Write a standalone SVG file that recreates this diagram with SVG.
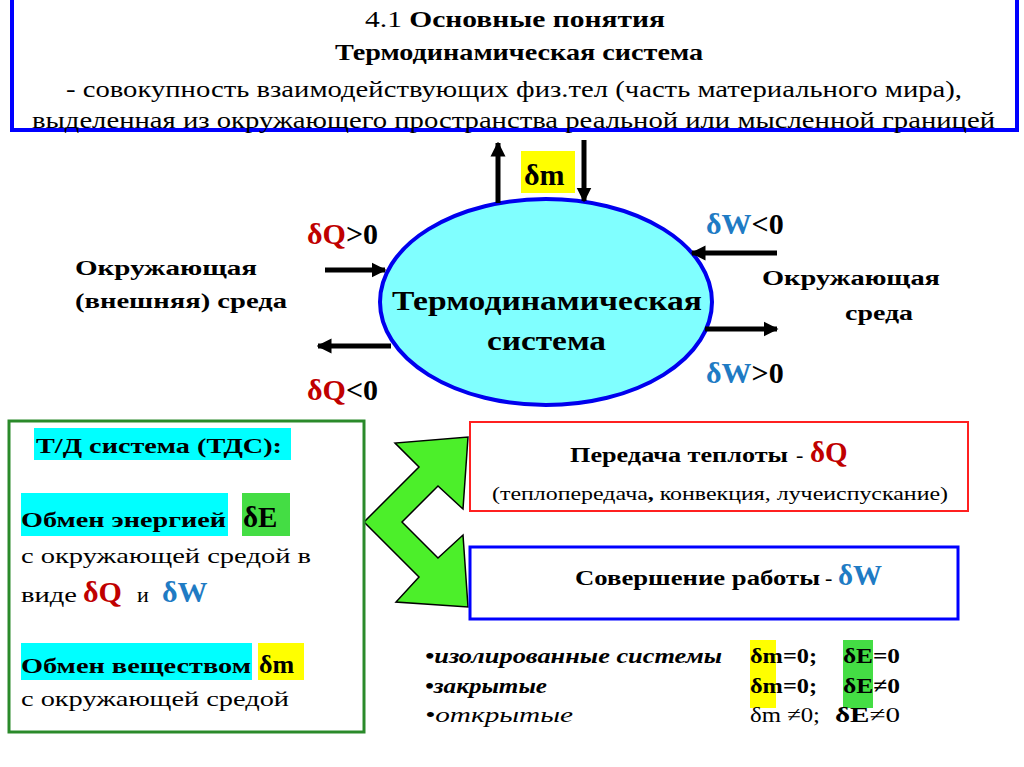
<svg xmlns="http://www.w3.org/2000/svg" width="1024" height="767" viewBox="0 0 1024 767">
<defs>
<style>
text{font-family:'Liberation Serif','DejaVu Serif Condensed',serif;fill:#000}
.b{font-weight:bold}
.i{font-style:italic}
.red{fill:#c00000}
.blu{fill:#1f7bc4}
.arr{stroke:#000;stroke-width:5;fill:none;marker-end:url(#ah)}
</style>
<marker id="ah" viewBox="0 0 10 10" refX="9" refY="5" markerWidth="3" markerHeight="3.6" orient="auto" markerUnits="strokeWidth">
<path d="M0,0 L10,5 L0,10 z" fill="#000"/>
</marker>
</defs>
<rect width="1024" height="767" fill="#fff"/>

<g id="header">
<rect x="12" y="-2" width="1005" height="132" fill="#fff" stroke="#0000ff" stroke-width="4"/>
<text x="365" y="27" font-size="23" textLength="300" lengthAdjust="spacingAndGlyphs">4.1 <tspan class="b">Основные понятия</tspan></text>
<text x="335" y="60" font-size="23" class="b" textLength="368" lengthAdjust="spacingAndGlyphs">Термодинамическая система</text>
<text x="66" y="97" font-size="23" textLength="896" lengthAdjust="spacingAndGlyphs">- совокупность взаимодействующих физ.тел (часть материального мира),</text>
<text x="32" y="128" font-size="23" textLength="963" lengthAdjust="spacingAndGlyphs">выделенная из окружающего пространства реальной или мысленной границей</text>
</g>

<g id="system">
<ellipse cx="546" cy="302" rx="166" ry="103" fill="#80ffff" stroke="#0000ee" stroke-width="4"/>
<text x="392" y="310" font-size="27" class="b" textLength="310" lengthAdjust="spacingAndGlyphs">Термодинамическая</text>
<text x="487" y="350" font-size="27" class="b" textLength="119" lengthAdjust="spacingAndGlyphs">система</text>
</g>

<g id="env-left">
<text x="75" y="275" font-size="20" class="b" textLength="182" lengthAdjust="spacingAndGlyphs">Окружающая</text>
<text x="75" y="308" font-size="20" class="b" textLength="212" lengthAdjust="spacingAndGlyphs">(внешняя) среда</text>
</g>
<g id="env-right">
<text x="762" y="285" font-size="20" class="b" textLength="178" lengthAdjust="spacingAndGlyphs">Окружающая</text>
<text x="845" y="320" font-size="20" class="b" textLength="68" lengthAdjust="spacingAndGlyphs">среда</text>
</g>

<g id="labels">
<rect x="521" y="151" width="54" height="42" fill="#ffff00"/>
<text x="524" y="185" font-size="30" class="b">δm</text>
<text x="307" y="244" font-size="30" class="b"><tspan class="red">δQ</tspan>&gt;0</text>
<text x="307" y="400" font-size="30" class="b"><tspan class="red">δQ</tspan>&lt;0</text>
<text x="706" y="234" font-size="30" class="b"><tspan class="blu">δW</tspan>&lt;0</text>
<text x="706" y="383" font-size="30" class="b"><tspan class="blu">δW</tspan>&gt;0</text>
</g>

<g id="connectors">
<line class="arr" x1="498" y1="203" x2="498" y2="143"/>
<line class="arr" x1="584" y1="140" x2="584" y2="201"/>
<line class="arr" x1="325" y1="270" x2="385" y2="270"/>
<line class="arr" x1="391" y1="346" x2="318" y2="346"/>
<line class="arr" x1="777" y1="253" x2="692" y2="253"/>
<line class="arr" x1="705" y1="329" x2="777" y2="329"/>
<polygon points="364,522 419,467 395,443 468,437 463,509 438,486 402,522 438,558 463,535 468,607 396,602 419,577" fill="#4cef2a" stroke="#000" stroke-width="1.5" stroke-linejoin="miter"/>
</g>

<g id="tds">
<rect x="9" y="421" width="355" height="311" fill="#fff" stroke="#2a8a2a" stroke-width="3"/>
<rect x="34" y="428" width="257" height="32" fill="#00ffff"/>
<text x="36" y="453" font-size="21" class="b" textLength="246" lengthAdjust="spacingAndGlyphs">Т/Д система (ТДС):</text>
<rect x="21" y="493" width="207" height="43" fill="#00ffff"/>
<rect x="242" y="493" width="48" height="43" fill="#44dd44"/>
<text x="21" y="527" font-size="21" class="b" textLength="205" lengthAdjust="spacingAndGlyphs">Обмен энергией</text>
<text x="243" y="527" font-size="29" class="b">δE</text>
<text x="21" y="563" font-size="22" textLength="290" lengthAdjust="spacingAndGlyphs">с окружающей средой в</text>
<text x="21" y="602" font-size="22" textLength="56" lengthAdjust="spacingAndGlyphs">виде</text>
<text x="83" y="602" font-size="30" class="b red">δQ</text>
<text x="137" y="602" font-size="22">и</text>
<text x="162" y="602" font-size="30" class="b blu">δW</text>
<rect x="21" y="643" width="231" height="37" fill="#00ffff"/>
<rect x="258" y="643" width="46" height="37" fill="#ffff00"/>
<text x="21" y="673" font-size="21" class="b" textLength="230" lengthAdjust="spacingAndGlyphs">Обмен веществом</text>
<text x="259" y="673" font-size="26" class="b">δm</text>
<text x="21" y="706" font-size="22" textLength="268" lengthAdjust="spacingAndGlyphs">с окружающей средой</text>
</g>

<g id="heat">
<rect x="470" y="422" width="498" height="89" fill="#fff" stroke="#ff2020" stroke-width="2"/>
<text x="570" y="462" font-size="20" class="b" textLength="218" lengthAdjust="spacingAndGlyphs">Передача теплоты</text>
<text x="796" y="462" font-size="22">-</text>
<text x="810" y="462" font-size="29" class="b red">δQ</text>
<text x="492" y="500" font-size="18" textLength="456" lengthAdjust="spacingAndGlyphs">(теплопередача<tspan class="b">,</tspan> конвекция, лучеиспускание)</text>
</g>

<g id="work">
<rect x="470" y="547" width="488" height="72" fill="#fff" stroke="#0000ff" stroke-width="3"/>
<text x="575" y="585" font-size="20" class="b" textLength="245" lengthAdjust="spacingAndGlyphs">Совершение работы</text>
<text x="825" y="585" font-size="22">-</text>
<text x="838" y="585" font-size="29" class="b blu">δW</text>
</g>

<g id="types">
<rect x="750" y="640" width="26" height="68" fill="#ffff00"/>
<rect x="843" y="640" width="30" height="68" fill="#44dd44"/>
<text x="425" y="663" font-size="20" class="b i" textLength="297" lengthAdjust="spacingAndGlyphs">•изолированные системы</text>
<text x="750" y="663" font-size="22" class="b" textLength="67" lengthAdjust="spacingAndGlyphs">δm=0;</text>
<text x="843" y="663" font-size="22" class="b" textLength="57" lengthAdjust="spacingAndGlyphs">δE=0</text>
<text x="425" y="693" font-size="20" class="b i" textLength="122" lengthAdjust="spacingAndGlyphs">•закрытые</text>
<text x="750" y="693" font-size="22" class="b" textLength="67" lengthAdjust="spacingAndGlyphs">δm=0;</text>
<text x="843" y="693" font-size="22" class="b" textLength="57" lengthAdjust="spacingAndGlyphs">δE≠0</text>
<text x="425" y="722" font-size="20" class="i" textLength="148" lengthAdjust="spacingAndGlyphs">•открытые</text>
<text x="750" y="722" font-size="22" textLength="70" lengthAdjust="spacingAndGlyphs">δm ≠0;</text>
<text x="835" y="722" font-size="22" textLength="65" lengthAdjust="spacingAndGlyphs"><tspan class="b">δE</tspan>≠0</text>
</g>
</svg>
